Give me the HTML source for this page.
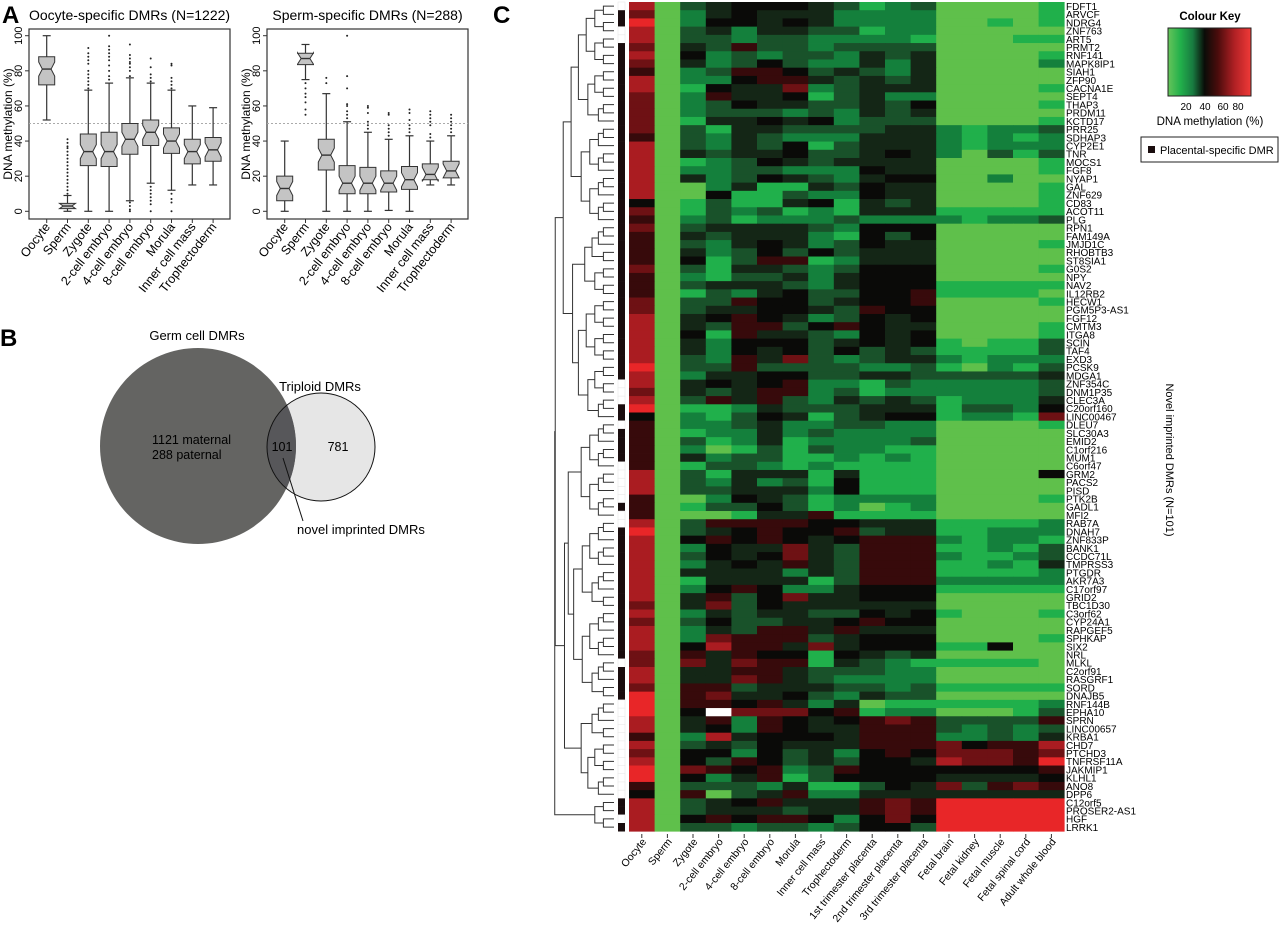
<!DOCTYPE html>
<html><head><meta charset="utf-8"><style>
html,body{margin:0;padding:0;background:#fff}
svg{display:block;font-family:"Liberation Sans",sans-serif}
</style></head><body>
<svg id="fig" width="1280" height="933" viewBox="0 0 1280 933" xmlns="http://www.w3.org/2000/svg">
<defs>
  <clipPath id="bigclip"><circle cx="198" cy="446" r="98"/></clipPath>
  <linearGradient id="kg" x1="0" x2="1" y1="0" y2="0">
    <stop offset="0" stop-color="#66c45a"/><stop offset="0.15" stop-color="#22b04b"/>
    <stop offset="0.3" stop-color="#187a40"/><stop offset="0.44" stop-color="#0a0c08"/>
    <stop offset="0.6" stop-color="#4a0c0c"/><stop offset="0.8" stop-color="#b02024"/>
    <stop offset="1" stop-color="#f03a38"/></linearGradient>
</defs>
<text x="2" y="23" font-size="24" font-weight="bold">A</text>
<text x="493" y="23" font-size="24" font-weight="bold">C</text>
<text x="0" y="346" font-size="24" font-weight="bold">B</text>
<g id="pa"></g>
<g id="pb">
  <circle cx="321" cy="447" r="54" fill="#e6e6e6"/>
  <circle cx="198" cy="446" r="98" fill="#646462"/>
  <circle cx="321" cy="447" r="54" fill="#57575a" clip-path="url(#bigclip)"/>
  <circle cx="321" cy="447" r="54" fill="none" stroke="#111" stroke-width="1"/>
  <text x="197" y="340" font-size="13" text-anchor="middle">Germ cell DMRs</text>
  <text x="320" y="391" font-size="13" text-anchor="middle">Triploid DMRs</text>
  <text x="152" y="444" font-size="12.5">1121 maternal</text>
  <text x="152" y="459" font-size="12.5">288 paternal</text>
  <text x="282" y="451" font-size="12.5" text-anchor="middle">101</text>
  <text x="338" y="451" font-size="12.5" text-anchor="middle">781</text>
  <line x1="283" y1="458" x2="303" y2="521" stroke="#111" stroke-width="1"/>
  <text x="297" y="534" font-size="13">novel imprinted DMRs</text>
</g>
<g id="pc"></g>
<g>
  <text x="1210" y="20" font-size="11.5" font-weight="bold" text-anchor="middle">Colour Key</text>
  <rect x="1168" y="28" width="83" height="68" fill="url(#kg)" stroke="#222"/>
  <text x="1186" y="110" font-size="10" text-anchor="middle">20</text>
  <text x="1205" y="110" font-size="10" text-anchor="middle">40</text>
  <text x="1223" y="110" font-size="10" text-anchor="middle">60</text>
  <text x="1238" y="110" font-size="10" text-anchor="middle">80</text>
  <text x="1210" y="125" font-size="11.5" text-anchor="middle">DNA methylation (%)</text>
  <rect x="1141" y="137" width="137" height="25" fill="#fff" stroke="#222"/>
  <rect x="1148" y="146" width="7" height="7" fill="#1a0d0e"/>
  <text x="1160" y="154" font-size="11">Placental-specific DMR</text>
</g>
<text transform="translate(1166,460) rotate(90)" font-size="11" text-anchor="middle">Novel imprinted DMRs (N=101)</text>
</svg>
<script>
const NS='http://www.w3.org/2000/svg';
const stages=['Oocyte','Sperm','Zygote','2-cell embryo','4-cell embryo','8-cell embryo','Morula','Inner cell mass','Trophectoderm'];
const yTicks=[0,20,40,60,80,100];
// Oocyte-specific DMRs boxes
const oocLow=[52,0,0,0,6,16,12,15,15];
const oocQ1=[72,1.5,26,25.5,32.5,37.5,33,27,28.5];
const oocMed=[81,3,34,34,41,45,40,34,35];
const oocQ3=[88,4.5,44,45,50,52,47.5,41,42];
const oocHigh=[100,9,69,73,76,73,69,60,59];
const oocOut=[[],[10,12,14,16,18,20,22,24,26,28,30,32,34,36,37,39,41],[70,72,74,76,78,80,84,86,88,90,93],[75,77,80,83,86,88,90,92,94,100],[77,80,82,84,85,87,89,95,5,3,1,0],[74,76,78,82,87,14,12,10,8,6,4,0],[70,72,74,76,83,84,10,7,5,0],[],[]];
// Sperm-specific DMRs boxes
const spLow=[0,75,0,0,0,0.5,0,15,15];
const spQ1=[6,83.5,23.5,10,10,11,12.5,18,19];
const spMed=[13,87,32,16,16,16,18,21,23];
const spQ3=[20,90,41,26,25,23,25.5,27,28.5];
const spHigh=[40,95,67,51,45,41,43,40,43];
const spOut=[[],[73,70,67,65,62,58,55],[73,76],[53,55,57,60,61,70,77,100],[47,49,51,56,59,60],[43,45,47,49,55,56],[45,47,49,52,56,58],[42,44,49,51,53,55,57],[45,47,49,51,53,55]];

const tissues=['Oocyte','Sperm','Zygote','2-cell embryo','4-cell embryo','8-cell embryo','Morula','Inner cell mass','Trophectoderm','1st trimester placenta','2nd trimester placenta','3rd trimester placenta','Fetal brain','Fetal kidney','Fetal muscle','Fetal spinal cord','Adult whole blood'];
const genes=['FDFT1','ARVCF','NDRG4','ZNF763','ART5','PRMT2','RNF141','MAPK8IP1','SIAH1','ZFP90','CACNA1E','SEPT4','THAP3','PRDM11','KCTD17','PRR25','SDHAP3','CYP2E1','TNR','MOCS1','FGF8','NYAP1','GAL','ZNF629','CD83','ACOT11','PLG','RPN1','FAM149A','JMJD1C','RHOBTB3','ST8SIA1','G0S2','NPY','NAV2','IL12RB2','HECW1','PGM5P3-AS1','FGF12','CMTM3','ITGA8','SCIN','TAF4','EXD3','PCSK9','MDGA1','ZNF354C','DNM1P35','CLEC3A','C20orf160','LINC00467','DLEU7','SLC30A3','EMID2','C1orf216','MUM1','C6orf47','GRM2','PACS2','PISD','PTK2B','GADL1','MFI2','RAB7A','DNAH7','ZNF833P','BANK1','CCDC71L','TMPRSS3','PTGDR','AKR7A3','C17orf97','GRID2','TBC1D30','C3orf62','CYP24A1','RAPGEF5','SPHKAP','SIX2','NRL','MLKL','C2orf91','RASGRF1','SORD','DNAJB5','RNF144B','EPHA10','SPRN','LINC00657','KRBA1','CHD7','PTCHD3','TNFRSF11A','JAKMIP1','KLHL1','ANO8','DPP6','C12orf5','PROSER2-AS1','HGF','LRRK1'];
// methylation decile per cell (digit*10 %), w = missing
const meth=['80345554312300001','70245444222200001','90255454222200101','80342443312200000','80332332222100011','70436332333300000','80523233243400001','70423532242400002','60236653432400000','80225664343400000','80154472344400001','70264451342200000','70235443343500001','70233323243400000','70144545233300001','70314433334421223','60324322244421212','80324351344421222','80434453345420313','80123543444400001','80223322254400001','80423543245500200','80024114354400001','80051132254400001','50131145143400001','70132312144411111','60231222322221223','70344443255500000','60434442153500000','60324542354400001','60423535344400000','60513661244400000','70314432355500001','60213342455500000','60344432455511111','60132453355611110','70336553455600001','70344554365500000','80456542354500000','80436635654400001','80516443254500001','80425553454510113','80425453534311113','80326473234421222','90336333322310213','80244553344333334','80454562213222223','70434662312222223','80364632434312224','90112433344413325','50213541345512217','60223422332200001','60122423222200000','60312412222300000','60201313221100000','60423311212100000','60133212111100000','80314441411100005','80324231511100000','80334442511100000','60025431222200001','60133531201200000','60001446111100000','80366665544411112','90345655634411222','80565654566621221','80254474366611213','80354574366621123','80245464366611214','80444424366611112','80144441366622222','80256522455511111','80463574455500000','70473544444400000','80243443354510001','70353344565500000','80243664644400000','80276663455500001','80586647455511500','70646551543400000','70747661432111110','80446643332200000','80447643222200000','70663444332311111','90674453243300000','90665642401111112','905w7775612200013','80462654567633336','80452654466632323','60284555466622324','80343544466675668','70552534256577767','80536534355487769','90765623655555556','90524613555544445','60333241135473676','50603462244444444','80345644467699999','80344434467699999','80565665257599999','80332332355399999'];
const placental='0'+'11'+'00'+'11111111111111111111111111111111111111111'+'000'+'11'+'0'+'1111'+'00000'+'1'+'00'+'1111111111111111'+'0'+'1111'+'000000000000'+'11'+'0'+'1';
</script>
<script>
const svg=document.getElementById('fig');
function mk(tag,attrs,parent){const e=document.createElementNS(NS,tag);for(const k in attrs)e.setAttribute(k,attrs[k]);(parent||svg).appendChild(e);return e;}
const pa=document.getElementById('pa');
const pc=document.getElementById('pc');

function boxPlot(ox,title,low,q1,med,q3,high,outs,key){
  const fx0=ox, fx1=ox+201, fy0=29, fy1=219;
  const y=v=>211.3-v*1.756;
  const xc=i=>ox+17.7+i*20.8;
  const frame=mk('rect',{x:fx0,y:fy0,width:fx1-fx0,height:fy1-fy0,fill:'none',stroke:'#333','stroke-width':1.2},pa);
  
  
  const t=mk('text',{x:(fx0+fx1)/2,y:20,'font-size':14,'text-anchor':'middle'},pa);t.textContent=title;
  
  
  const ref=mk('line',{x1:fx0,x2:fx1,y1:y(50),y2:y(50),stroke:'#aaa','stroke-dasharray':'2,2'},pa);
  
  
  const yl=mk('text',{transform:`translate(${ox-17},124) rotate(-90)`,'font-size':12,'text-anchor':'middle'},pa);yl.textContent='DNA methylation (%)';
  
  
  yTicks.forEach(v=>{
    const tk=mk('line',{x1:fx0-4,x2:fx0,y1:y(v),y2:y(v),stroke:'#333'},pa);
    
    
    const tl=mk('text',{transform:`translate(${fx0-7},${y(v)}) rotate(-90)`,'font-size':11,'text-anchor':'middle'},pa);tl.textContent=v;
    
    
  });
  stages.forEach((s,i)=>{
    const x=xc(i), w=8, n=Math.min(4,(q3[i]-q1[i])/2);
    const g=mk('g',{},pa);
    
    
    mk('line',{x1:x,x2:x,y1:y(high[i]),y2:y(q3[i]),stroke:'#333','stroke-width':1.2},g);
    mk('line',{x1:x,x2:x,y1:y(q1[i]),y2:y(low[i]),stroke:'#333','stroke-width':1.2},g);
    mk('line',{x1:x-4,x2:x+4,y1:y(high[i]),y2:y(high[i]),stroke:'#333','stroke-width':1.2},g);
    mk('line',{x1:x-4,x2:x+4,y1:y(low[i]),y2:y(low[i]),stroke:'#333','stroke-width':1.2},g);
    const pts=[[x-w,q1[i]],[x-w,med[i]-n],[x-w*0.55,med[i]],[x-w,med[i]+n],[x-w,q3[i]],[x+w,q3[i]],[x+w,med[i]+n],[x+w*0.55,med[i]],[x+w,med[i]-n],[x+w,q1[i]]];
    mk('polygon',{points:pts.map(p=>p[0]+','+y(p[1])).join(' '),fill:'#c4c4c4',stroke:'#333','stroke-width':1},g);
    mk('line',{x1:x-w*0.55,x2:x+w*0.55,y1:y(med[i]),y2:y(med[i]),stroke:'#333','stroke-width':1.4},g);
    outs[i].forEach(v=>mk('circle',{cx:x,cy:y(v),r:1,fill:'#222'},g));
    const xt=mk('line',{x1:x,x2:x,y1:fy1,y2:fy1+4,stroke:'#333'},pa);
    
    
    const lb=mk('text',{transform:`translate(${x+4},${fy1+8}) rotate(-52)`,'font-size':12.5,'text-anchor':'end'},pa);lb.textContent=s;
    
    
  });
}
boxPlot(29,'Oocyte-specific DMRs (N=1222)',oocLow,oocQ1,oocMed,oocQ3,oocHigh,oocOut,'oocyte-specific');
boxPlot(267,'Sperm-specific DMRs (N=288)',spLow,spQ1,spMed,spQ3,spHigh,spOut,'sperm-specific');

// heatmap
const HX=629, HY=2, CW=25.6, RH=8.21;
const stops=[[0,[95,192,75]],[10,[32,176,75]],[20,[20,128,60]],[30,[25,82,42]],[40,[20,38,22]],[50,[10,10,8]],[60,[55,10,11]],[70,[110,17,20]],[80,[170,28,33]],[90,[232,38,40]]];
function col(v){
  if(v==null) return '#ffffff';
  for(let k=0;k<stops.length-1;k++){const a=stops[k],b=stops[k+1];if(v<=b[0]){const t=(v-a[0])/(b[0]-a[0]);return 'rgb('+a[1].map((c,j)=>Math.round(c+(b[1][j]-c)*t)).join(',')+')';}}
  return 'rgb(232,38,40)';
}
const rowY=r=>HY+r*RH;
const colX=c=>HX+c*CW;
meth.forEach((row,r)=>{
  for(let c=0;c<tissues.length;c++){
    const ch=row[c]; const v=(ch==='w'||ch===undefined)?null:Number(ch)*10;
    const cell=mk('rect',{x:colX(c).toFixed(2),y:rowY(r).toFixed(2),width:(CW+0.4).toFixed(2),height:(RH+0.4).toFixed(2),fill:col(v)},pc);
    
    
  }
  const side=mk('rect',{x:618,y:rowY(r).toFixed(2),width:7,height:(RH+0.3).toFixed(2),fill:placental[r]==='1'?'#1a0d0e':'#fff',stroke:placental[r]==='1'?'none':'#e4e4e4','stroke-width':0.5},pc);
  
  
  const gl=mk('text',{x:1066,y:(rowY(r)+RH-0.3).toFixed(2),'font-size':10},pc);gl.textContent=genes[r];
  
  
});
tissues.forEach((t,c)=>{
  const x=colX(c)+CW/2;
  const tk=mk('line',{x1:x,x2:x,y1:834,y2:838,stroke:'#333'},pc);
  
  
  const lb=mk('text',{transform:`translate(${x+5},${842}) rotate(-51)`,'font-size':10.5,'text-anchor':'end'},pc);lb.textContent=t;
  
  
});
// dendrogram
const splits={'0-100':96,'0-96':50,'0-50':26,'51-96':84,'0-26':14,'27-50':35,'51-84':62,'85-96':89,'97-100':98};
function tree(a,b){
  if(a===b) return {x:614,y:rowY(a)+RH/2};
  const s=splits[a+'-'+b]!==undefined?splits[a+'-'+b]:Math.floor((a+b)/2);
  const L=tree(a,s),R=tree(s+1,b);
  const x=614-8.6*Math.log2(b-a+1)-2;
  const d=`M${L.x},${L.y}H${x}V${R.y}H${R.x}`;
  const p=mk('path',{d:d,fill:'none',stroke:'#333','stroke-width':1},pc);
  
  
  return {x:x,y:(L.y+R.y)/2};
}
tree(0,100);
</script>
</body></html>
